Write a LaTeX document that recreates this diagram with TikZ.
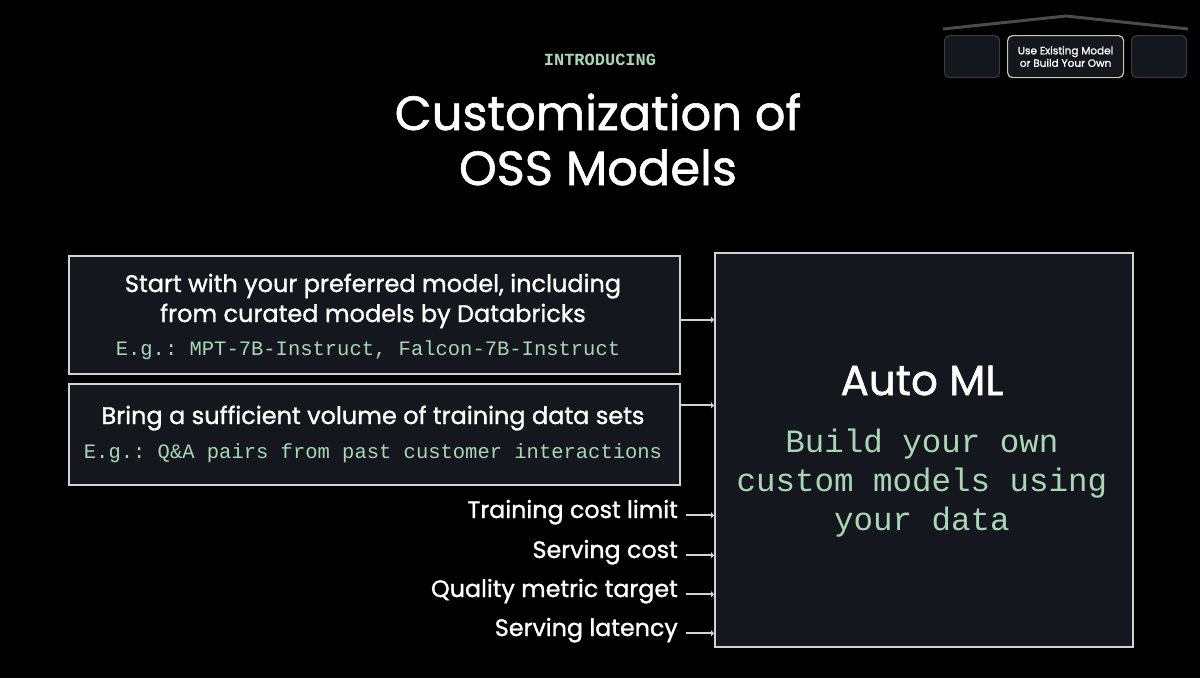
\documentclass[tikz,border=0pt]{standalone}
\usepackage{fontspec}
\setmainfont{Poppins}[FakeBold=1.2]
\setmonofont{Liberation Mono}
\usetikzlibrary{arrows.meta,positioning,calc}
\definecolor{slide}{HTML}{000000}
\definecolor{boxfill}{HTML}{14171D}
\definecolor{boxline}{HTML}{D2D2D2}
\definecolor{mint}{HTML}{A9D7B6}
\definecolor{roofline}{HTML}{4B4B4B}
\definecolor{tabline}{HTML}{3A3B3D}
\definecolor{tabsel}{HTML}{CFC7AA}
\tikzset{
    infobox/.style={
        draw=boxline,
        fill=boxfill,
        line width=1.6pt,
        anchor=north west,
        inner sep=0pt,
    },
    tab/.style={
        draw=tabline,
        fill=boxfill,
        line width=1.2pt,
        rounded corners=5pt,
        anchor=north west,
        inner sep=0pt,
        minimum height=42pt,
    },
    boxtext/.style={
        text=white,
        anchor=base,
        inner sep=0pt,
        font=\fontsize{24}{28}\selectfont,
    },
    example/.style={
        text=mint,
        anchor=base,
        inner sep=0pt,
        font=\ttfamily\fontsize{20.5}{24}\selectfont,
    },
    goal/.style={
        text=white,
        anchor=base east,
        inner sep=0pt,
        font=\fontsize{23.8}{28}\selectfont,
    },
    link/.style={
        draw=boxline,
        line width=1.8pt,
        -{Triangle[length=3pt,width=6pt]},
    },
}

\begin{document}
\begin{tikzpicture}[x=1pt,y=-1pt]
    \fill[slide] (0,0) rectangle (1200,678);
    \useasboundingbox (0,0) rectangle (1200,678);

    \draw[roofline,line width=3pt] (943,29) -- (1066,16) -- (1188,29);
    \node[tab,minimum width=55pt] (tabL) at (944,35) {};
    \node[tab,draw=tabsel,minimum width=116pt] (tabM) at (1007,35) {};
    \node[tab,minimum width=55pt] (tabR) at (1131,35) {};
    \node[text=white,align=center,font=\fontsize{10.5}{12.5}\selectfont] (tabtext) at (tabM.center) {Use Existing Model\\or Build Your Own};

    \node[text=mint,anchor=base,font=\ttfamily\bfseries\fontsize{17}{20}\selectfont] (intro) at (600,65) {INTRODUCING};
    \node[text=white,anchor=base,font=\fontsize{48}{56}\selectfont] (titleA) at (598,130) {Customization of};
    \node[text=white,anchor=base,font=\fontsize{48}{56}\selectfont] (titleB) at (598,185) {OSS Models};

    \node[infobox,minimum width=611pt,minimum height=118pt] (start) at (68,255) {};
    \node[boxtext] (startA) at (373,292) {Start with your preferred model, including};
    \node[boxtext] (startB) at (373,322) {from curated models by Databricks};
    \node[example] (startC) at (368,355) {E.g.: MPT-7B-Instruct, Falcon-7B-Instruct};

    \node[infobox,minimum width=611pt,minimum height=101pt] (data) at (68,383) {};
    \node[boxtext] (dataA) at (373,424) {Bring a sufficient volume of training data sets};
    \node[example] (dataB) at (373,458) {E.g.: Q\&A pairs from past customer interactions};

    \node[infobox,minimum width=418pt,minimum height=394pt] (automl) at (714,252) {};
    \node[text=white,anchor=base,font=\fontsize{42}{48}\selectfont] (automlA) at (922,395) {Auto ML};
    \node[text=mint,anchor=base,font=\ttfamily\fontsize{32.5}{38}\selectfont] (automlB) at (922,452) {Build your own};
    \node[text=mint,anchor=base,font=\ttfamily\fontsize{32.5}{38}\selectfont] (automlC) at (922,491) {custom models using};
    \node[text=mint,anchor=base,font=\ttfamily\fontsize{32.5}{38}\selectfont] (automlD) at (922,530) {your data};

    \node[goal] (train) at (678,518) {Training cost limit};
    \node[goal] (serve) at (678,558) {Serving cost};
    \node[goal] (quality) at (678,597) {Quality metric target};
    \node[goal] (latency) at (678,636) {Serving latency};

    \draw[link] ($(start.east)+(0,5)$) -- (automl.west |- {$(start.east)+(0,5)$});
    \draw[link] ($(data.east)+(0,-29)$) -- (automl.west |- {$(data.east)+(0,-29)$});
    \foreach \g in {train,serve,quality,latency}
        \draw[link] ([xshift=8pt]\g.mid east) -- (automl.west |- \g.mid east);
\end{tikzpicture}
\end{document}
